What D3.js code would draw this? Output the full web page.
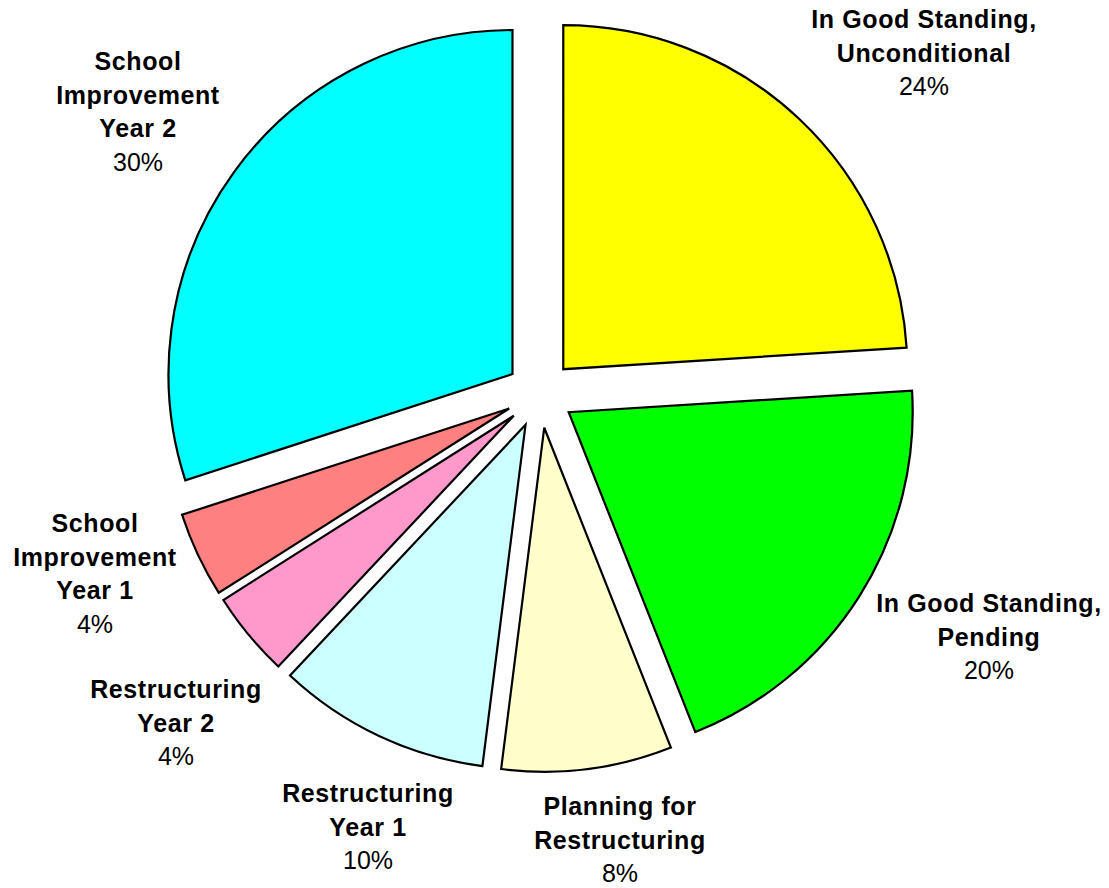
<!DOCTYPE html>
<html>
<head>
<meta charset="utf-8">
<script src="https://cdn.jsdelivr.net/npm/d3@7"></script>
<style>
  html, body { margin: 0; padding: 0; background: #fff; }
  svg { display: block; }
  text { font-family: Arial, "Liberation Sans", sans-serif; fill: #000; }
</style>
</head>
<body>
<script>
// data, clockwise from 12 o'clock
var categories = [
  "In Good Standing, Unconditional",
  "In Good Standing, Pending",
  "Planning for Restructuring",
  "Restructuring Year 1",
  "Restructuring Year 2",
  "School Improvement Year 1",
  "School Improvement Year 2"
];
var labelLines = [
  ["In Good Standing,", "Unconditional"],
  ["In Good Standing,", "Pending"],
  ["Planning for", "Restructuring"],
  ["Restructuring", "Year 1"],
  ["Restructuring", "Year 2"],
  ["School", "Improvement", "Year 1"],
  ["School", "Improvement", "Year 2"]
];
var values = [24, 20, 8, 10, 4, 4, 30];
var colors = ["#ffff00", "#00ff00", "#ffffcc", "#ccffff", "#ff99cc", "#ff8080", "#00ffff"];

// layout
var width = 1109, height = 888;
var cx = 540, cy = 394;
var radius = 344, explode = 34;
var lineH = 33.7;
// where each label's first baseline sits, relative to the pie centre
var labelAt = [[384, -366], [449, 218], [80, 421], [-172, 408], [-364, 304], [-445, 138], [-402, -324]];

var svg = d3.select("body").append("svg")
  .attr("width", width)
  .attr("height", height);

var pie = d3.pie().sort(null).value(function(d) { return d; });
var arc = d3.arc().innerRadius(0).outerRadius(radius);

var slices = pie(values).map(function(p, i) {
  p.i = i;
  return p;
});

var g = svg.append("g")
  .attr("transform", "translate(" + cx + "," + cy + ")");

g.selectAll("path")
  .data(slices)
  .enter()
  .append("path")
  .attr("d", arc)
  .attr("transform", function(d) {
    var a = (d.startAngle + d.endAngle) / 2;
    return "translate(" + (explode * Math.sin(a)) + "," + (-explode * Math.cos(a)) + ")";
  })
  .style("fill", function(d) { return colors[d.i]; })
  .style("stroke", "#000")
  .style("stroke-width", 2.2)
  .style("stroke-linejoin", "miter");

var labels = g.selectAll("text.lbl")
  .data(slices)
  .enter()
  .append("text")
  .attr("class", "lbl")
  .attr("text-anchor", "middle")
  .style("font-size", "25px");

labels.each(function(d) {
  var t = d3.select(this);
  var pos = labelAt[d.i];
  var lines = labelLines[d.i];
  lines.forEach(function(line, k) {
    t.append("tspan")
      .attr("x", pos[0])
      .attr("y", pos[1] + k * lineH)
      .style("font-weight", "bold")
      .style("letter-spacing", "0.6px")
      .text(line);
  });
  t.append("tspan")
    .attr("x", pos[0])
    .attr("y", pos[1] + lines.length * lineH)
    .text(values[d.i] + "%");
});
</script>
</body>
</html>
